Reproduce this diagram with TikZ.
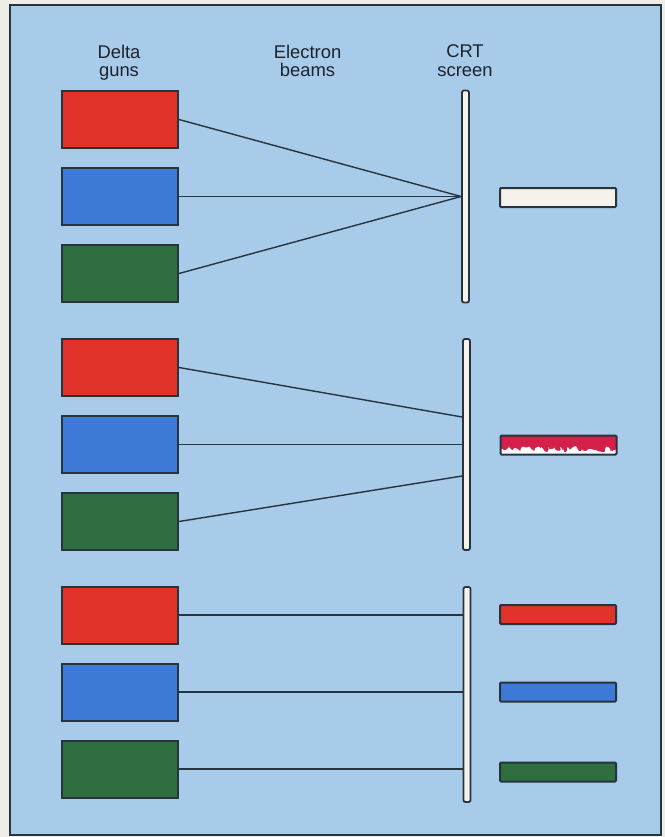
\documentclass[tikz,border=0pt]{standalone}
\usepackage{fontspec}
\setmainfont{Liberation Sans}
\usetikzlibrary{decorations.pathmorphing, positioning}
\definecolor{paper}{HTML}{EEEDE6}
\definecolor{panel}{HTML}{A8CBEA}
\definecolor{edge}{HTML}{26343E}
\definecolor{gunred}{HTML}{E2332A}
\definecolor{gunblue}{HTML}{3D7AD8}
\definecolor{gungreen}{HTML}{2E6E3F}
\definecolor{glowpink}{HTML}{D41F4B}
\definecolor{glowwhite}{HTML}{F4F2EB}
\tikzset{
  % cannone elettronico
  gun/.style={draw=edge, line width=1pt, minimum width=58pt, minimum height=28.5pt,
    inner sep=0pt},
  % schermo del tubo
  screenbar/.style={draw=edge, line width=0.9pt, fill=glowwhite, rounded corners=1pt,
    minimum width=3.5pt, inner sep=0pt},
  % colore visto sullo schermo
  spot/.style={draw=edge, line width=1pt, minimum width=58pt, minimum height=9.5pt,
    inner sep=0pt, rounded corners=0.5pt},
  % fascio di elettroni
  beam/.style={line width=0.7pt, edge},
  % titoli delle colonne
  head/.style={font=\fontsize{9.2}{9.2}\selectfont, align=center, text=edge!70!black,
    anchor=north, inner sep=0pt},
}
\begin{document}
\begin{tikzpicture}[x=0.5pt, y=-0.5pt]
  \useasboundingbox (0,0) rectangle (665,837);
  \fill[paper] (0,0) rectangle (665,837);
  \draw[edge, line width=1.2pt, fill=panel] (10,5) rectangle (661,835);

  \node[head] (hguns) at (119,44.5) {Delta\\guns};
  \node[head] (hbeams) at (307.5,44.5) {Electron\\beams};
  \node[head] (hscreen) at (465,44.5) {CRT\\screen};

  \foreach \g/\y in {1/119.5, 2/367.5, 3/615} {
    \node[gun, fill=gunred] (r\g) at (120,\y) {};
    \node[gun, fill=gunblue] (b\g) at (120,{\y+77}) {};
    \node[gun, fill=gungreen] (g\g) at (120,{\y+154}) {};
  }

  \node[screenbar, minimum height=106pt] (s1) at (465.5,196.5) {};
  \node[screenbar, minimum height=105.5pt] (s2) at (466.5,444.5) {};
  \node[screenbar, minimum height=107.5pt] (s3) at (467,694.5) {};

  % fasci convergenti
  \foreach \c in {r1,b1,g1} \draw[beam] (\c.east) -- (s1.west);
  % fasci con convergenza errata
  \coordinate (e2r) at ([yshift=13.75pt]s2.west);
  \coordinate (e2g) at ([yshift=-15.75pt]s2.west);
  \draw[beam] (r2.east) -- (e2r);
  \draw[beam] (b2.east) -- (s2.west);
  \draw[beam] (g2.east) -- (e2g);
  % fasci paralleli
  \foreach \c in {r3,b3,g3} \draw[beam] (\c.east) -- (\c.east -| s3.west);

  \node[spot, fill=glowwhite] (w1) at (558,197.5) {};
  \pgfmathsetseed{7}
  \node[spot, fill=glowpink, path picture={
    \fill[white] (path picture bounding box.south west)
      -- ([yshift=2.6pt]path picture bounding box.south west)
      decorate[decoration={random steps, segment length=0.9pt, amplitude=1.6pt}]
      {-- ([yshift=2.6pt]path picture bounding box.south east)}
      -- (path picture bounding box.south east) -- cycle;
  }] (p2) at (558.5,445) {};
  \node[spot, fill=gunred] (r3s) at (558,614.5) {};
  \node[spot, fill=gunblue] (b3s) at (558,692) {};
  \node[spot, fill=gungreen] (g3s) at (558,772) {};
\end{tikzpicture}
\end{document}
